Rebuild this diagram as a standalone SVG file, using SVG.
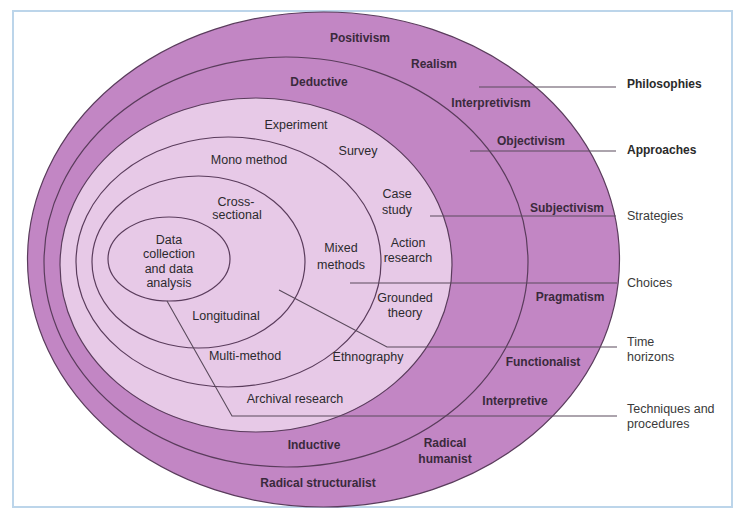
<svg xmlns="http://www.w3.org/2000/svg" width="746" height="517" viewBox="0 0 746 517">
<style>
  .ring { fill: #c286c4; stroke: #5a3c5c; stroke-width: 1.2; }
  .inner { fill: #e7c9e7; stroke: #5a3c5c; stroke-width: 1.2; }
  .oval { fill: none; stroke: #5a3c5c; stroke-width: 1.2; }
  .conn { fill: none; stroke: #5a4a5c; stroke-width: 1.1; }
  text { font-family: "Liberation Sans", Arial, sans-serif; fill: #2c2a2e; text-anchor: middle; }
  .b { font-size: 12px; font-weight: bold; fill: #3a2a3c; }
  .r { font-size: 12.5px; }
  .lgb { font-size: 12px; font-weight: bold; text-anchor: start; fill: #2a2a2a; }
  .lg { font-size: 12.5px; text-anchor: start; fill: #3a3a3a; }
</style>
<rect x="0" y="0" width="746" height="517" fill="#ffffff"/>
<rect x="13" y="11" width="719" height="496" fill="#ffffff" stroke="#bcd5ea" stroke-width="2"/>

<g id="philosophies">
  <ellipse class="ring" cx="323.5" cy="259.5" rx="296" ry="247.5"/>
</g>
<g id="approaches">
  <ellipse class="ring" cx="286" cy="262" rx="242" ry="205"/>
</g>
<g id="strategies">
  <ellipse class="inner" cx="256" cy="265" rx="196" ry="167"/>
</g>
<g id="choices">
  <ellipse class="oval" cx="228.5" cy="262" rx="152.5" ry="125"/>
</g>
<g id="time-horizons">
  <ellipse class="oval" cx="198.5" cy="262" rx="106.5" ry="86"/>
</g>
<g id="techniques">
  <ellipse class="oval" cx="169" cy="259" rx="61" ry="42"/>
</g>

<g id="connectors">
  <line class="conn" x1="479" y1="87" x2="616" y2="87"/>
  <line class="conn" x1="470" y1="151" x2="616" y2="151"/>
  <line class="conn" x1="430" y1="216" x2="616" y2="216"/>
  <line class="conn" x1="350" y1="283" x2="617" y2="283"/>
  <polyline class="conn" points="279,290 387,347 617,347"/>
  <polyline class="conn" points="167,301 232,416 617,416"/>
</g>

<g id="philosophies-labels">
  <text class="b" x="360" y="42">Positivism</text>
  <text class="b" x="434" y="68">Realism</text>
  <text class="b" x="491" y="107">Interpretivism</text>
  <text class="b" x="531" y="145">Objectivism</text>
  <text class="b" x="567" y="212">Subjectivism</text>
  <text class="b" x="570" y="301">Pragmatism</text>
  <text class="b" x="543" y="366">Functionalist</text>
  <text class="b" x="515" y="405">Interpretive</text>
  <text class="b" x="445" y="447">Radical</text>
  <text class="b" x="445" y="463">humanist</text>
  <text class="b" x="318" y="487">Radical structuralist</text>
</g>
<g id="approaches-labels">
  <text class="b" x="319" y="86">Deductive</text>
  <text class="b" x="314" y="449">Inductive</text>
</g>
<g id="strategies-labels">
  <text class="r" x="296" y="129">Experiment</text>
  <text class="r" x="358" y="155">Survey</text>
  <text class="r" x="397" y="198">Case</text>
  <text class="r" x="397" y="214">study</text>
  <text class="r" x="408" y="247">Action</text>
  <text class="r" x="408" y="262">research</text>
  <text class="r" x="405" y="302">Grounded</text>
  <text class="r" x="405" y="317">theory</text>
  <text class="r" x="368" y="361">Ethnography</text>
  <text class="r" x="295" y="403">Archival research</text>
</g>
<g id="choices-labels">
  <text class="r" x="249" y="164">Mono method</text>
  <text class="r" x="341" y="252">Mixed</text>
  <text class="r" x="341" y="269">methods</text>
  <text class="r" x="245" y="360">Multi-method</text>
</g>
<g id="time-horizons-labels">
  <text class="r" x="236" y="206">Cross-</text>
  <text class="r" x="237" y="219">sectional</text>
  <text class="r" x="226" y="320">Longitudinal</text>
</g>
<g id="techniques-labels">
  <text class="r" x="169" y="244">Data</text>
  <text class="r" x="169" y="258">collection</text>
  <text class="r" x="169" y="273">and data</text>
  <text class="r" x="169" y="287">analysis</text>
</g>

<g id="legend">
  <text class="lgb" x="627" y="88">Philosophies</text>
  <text class="lgb" x="627" y="154">Approaches</text>
  <text class="lg" x="627" y="220">Strategies</text>
  <text class="lg" x="627" y="287">Choices</text>
  <text class="lg" x="627" y="346">Time</text>
  <text class="lg" x="627" y="361">horizons</text>
  <text class="lg" x="627" y="413">Techniques and</text>
  <text class="lg" x="627" y="428">procedures</text>
</g>
</svg>
